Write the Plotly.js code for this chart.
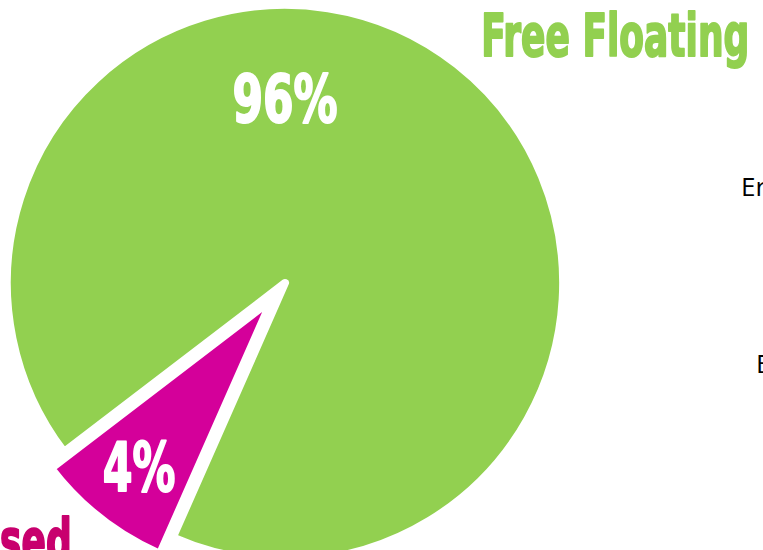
<!DOCTYPE html>
<html>
<head>
<meta charset="utf-8">
<script src="https://cdn.plot.ly/plotly-3.0.1.min.js"></script>
<style>
  html, body { margin: 0; padding: 0; background: #ffffff; overflow: hidden; width: 763px; height: 550px; }
  #chart { position: absolute; left: -14px; top: -16px; width: 777px; height: 598px; }
</style>
</head>
<body>
<div id="chart"></div>
<script>
// ---- data ----
const categories = ["sed", "Free Floating"];
const shares = [8, 92];            // slice sizes estimated from the drawn angles
const shareLabels = ["4%", "96%"]; // labels printed on the slices
const sliceColors = ["#D4009A", "#92D050"];
const pulls = [0.075, 0];
const sideTexts = ["Er", "E"];

// ---- layout helpers ----
const DIV = { left: -14, top: -16, w: 777, h: 598 };
function px(x) { return (x - DIV.left) / DIV.w; }
function py(y) { return 1 - (y - DIV.top) / DIV.h; }

const heavy = "'DejaVu Sans Condensed', 'DejaVu Sans', sans-serif";

const trace = {
  type: "pie",
  labels: categories,
  values: shares,
  sort: false,
  direction: "clockwise",
  rotation: -156.2,
  pull: pulls,
  textinfo: "none",
  hoverinfo: "label+percent",
  marker: { colors: sliceColors, line: { color: "#ffffff", width: 8 } },
  domain: { x: [0, DIV.h / DIV.w], y: [0, 1] },
  showlegend: false
};

const annotations = [
  { text: shareLabels[1], x: px(285), y: py(99.5), xanchor: "center", yanchor: "middle",
    font: { family: heavy, size: 66, color: "#ffffff", weight: "bold" } },
  { text: shareLabels[0], x: px(138.5), y: py(467.5), xanchor: "center", yanchor: "middle",
    font: { family: heavy, size: 67, color: "#ffffff", weight: "bold" } },
  { text: categories[1], x: px(615), y: py(35.5), xanchor: "center", yanchor: "middle",
    font: { family: heavy, size: 58, color: "#92D050", weight: "bold" } },
  { text: categories[0], x: px(36), y: py(541), xanchor: "center", yanchor: "middle",
    font: { family: heavy, size: 58, color: "#C8006E", weight: "bold" } },
  { text: sideTexts[0], x: px(739.5), y: py(186), xanchor: "left", yanchor: "middle",
    font: { family: "'Open Sans', 'Noto Sans', sans-serif", size: 26, color: "#000000" } },
  { text: sideTexts[1], x: px(754.5), y: py(362.5), xanchor: "left", yanchor: "middle",
    font: { family: "'Open Sans', 'Noto Sans', sans-serif", size: 26, color: "#000000" } }
].map(a => Object.assign({ xref: "paper", yref: "paper", showarrow: false, borderpad: 0 }, a));

// horizontal condensing + extra weight of the heavy display texts (Impact-like look)
const condense = [0.74, 0.71, 0.69, 0.69, 1, 1];

const layout = {
  width: DIV.w,
  height: DIV.h,
  margin: { l: 0, r: 0, t: 0, b: 0, pad: 0 },
  paper_bgcolor: "rgba(0,0,0,0)",
  plot_bgcolor: "rgba(0,0,0,0)",
  showlegend: false,
  annotations: annotations
};

Plotly.newPlot("chart", [trace], layout, { displayModeBar: false, staticPlot: true }).then(gd => {
  gd.querySelectorAll("g.annotation").forEach(g => {
    const i = +g.getAttribute("data-index");
    const t = g.querySelector("text.annotation-text");
    if (t && condense[i] !== 1) {
      t.style.transformBox = "fill-box";
      t.style.transformOrigin = "center";
      t.style.transform = "scaleX(" + condense[i] + ")";
      t.style.stroke = annotations[i].font.color;
      t.style.strokeWidth = "2px";
      t.style.strokeLinejoin = "round";
    }
  });
});
</script>
</body>
</html>
